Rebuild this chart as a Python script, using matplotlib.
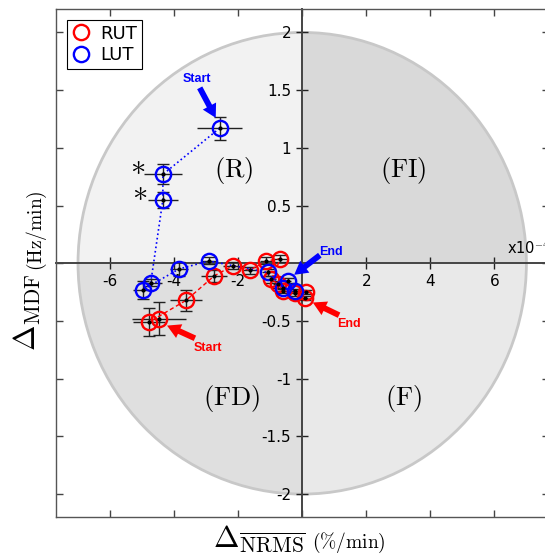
import numpy as np
import matplotlib
matplotlib.use("Agg")
import matplotlib.pyplot as plt
from matplotlib.patches import Wedge, Ellipse
from matplotlib.transforms import Affine2D
from matplotlib.ticker import FixedLocator

plt.rcParams['mathtext.fontset'] = 'cm'
plt.rcParams['axes.unicode_minus'] = False

##############################################################################
# DATA  (x in units of 1e-4 %/min, y in Hz/min)
##############################################################################
lut_x = [-2.58, -4.35, -4.35, -4.73, -4.98, -3.85, -2.91, -1.07, -0.61, -0.23, -0.45]
lut_y = [1.17, 0.77, 0.55, -0.17, -0.23, -0.05, 0.02, -0.08, -0.21, -0.24, -0.15]
lut_xerr = [0.70, 0.59, 0.47, 0.35, 0.30, 0.28, 0.25, 0.20, 0.15, 0.12, 0.10]
lut_yerr = [0.10, 0.087, 0.07, 0.03, 0.08, 0.06, 0.03, 0.03, 0.03, 0.02, 0.02]

rut_x = [-4.47, -4.78, -3.62, -2.75, -2.16, -1.64, -1.12, -0.68, -0.96, -0.75,
         -0.60, -0.23, 0.12, 0.08]
rut_y = [-0.48, -0.51, -0.32, -0.11, -0.02, -0.06, 0.02, 0.04, -0.14, -0.18,
         -0.24, -0.26, -0.25, -0.30]
rut_xerr = [0.83, 0.50, 0.50, 0.40, 0.30, 0.25, 0.20, 0.20, 0.15, 0.15,
            0.12, 0.10, 0.10, 0.10]
rut_yerr = [0.145, 0.12, 0.09, 0.05, 0.03, 0.03, 0.03, 0.03, 0.03, 0.03,
            0.02, 0.02, 0.02, 0.02]

# ellipse half-axes and quadrant shades
ell_a, ell_b = 7.0, 2.0
quadrants = [("(FI)", 0, 90, "#d9d9d9", 3.15, 0.80),
             ("(R)", 90, 180, "#f2f2f2", -2.15, 0.80),
             ("(FD)", 180, 270, "#dfdfdf", -2.2, -1.17),
             ("(F)", 270, 360, "#e9e9e9", 3.15, -1.17)]

xticks = [-6, -4, -2, 2, 4, 6]
yticks = [-2, -1.5, -1, -0.5, 0.5, 1, 1.5, 2]

##############################################################################
# FIGURE
##############################################################################
fig = plt.figure(figsize=(5.45, 5.57), dpi=100)
pos = [0.102, 0.0715, 0.905, 0.9117]
ax = fig.add_axes(pos)
ax.set_xlim(-7.7, 7.7)
ax.set_ylim(-2.2, 2.2)

# shaded ellipse, one wedge per quadrant
scale = Affine2D().scale(ell_a, ell_b) + ax.transData
for name, t1, t2, col, tx, ty in quadrants:
    ax.add_patch(Wedge((0, 0), 1.0, t1, t2, facecolor=col, edgecolor="none",
                       transform=scale, zorder=0))
    ax.text(tx, ty, r"$\mathrm{%s}$" % name, fontsize=19, ha="center",
            va="center", zorder=1)
ax.add_patch(Ellipse((0, 0), 2 * ell_a, 2 * ell_b, facecolor="none",
                     edgecolor="#c8c8c8", lw=2, zorder=1))

# centered axes
for s in ["top", "right"]:
    ax.spines[s].set_visible(False)
ax.spines["left"].set_position("zero")
ax.spines["bottom"].set_position("zero")
for s in ["left", "bottom"]:
    ax.spines[s].set_color("#444444")
    ax.spines[s].set_linewidth(1.4)
    ax.spines[s].set_zorder(2)
ax.xaxis.set_major_locator(FixedLocator(xticks))
ax.yaxis.set_major_locator(FixedLocator(yticks))
ax.set_xticklabels([str(v) for v in xticks])
ax.set_yticklabels(["%g" % v for v in yticks])
ax.tick_params(direction="inout", length=9, width=1, color="#222222",
               labelsize=11)

# errorbars
eb_kw = dict(fmt="none", ecolor="#222222", elinewidth=1, zorder=3)
ax.errorbar(rut_x, rut_y, yerr=rut_yerr, capsize=4, **eb_kw)
ax.errorbar(rut_x, rut_y, xerr=rut_xerr, capsize=0, **eb_kw)
ax.errorbar(lut_x, lut_y, yerr=lut_yerr, capsize=4, **eb_kw)
ax.errorbar(lut_x, lut_y, xerr=lut_xerr, capsize=0, **eb_kw)

# series
ax.plot(rut_x, rut_y, color="red", lw=1, dashes=(3, 2), zorder=4)
ax.plot(lut_x, lut_y, color="blue", lw=1.2, ls=":", zorder=4)
h_rut, = ax.plot(rut_x, rut_y, "o", mfc="none", mec="red", ms=11, mew=1.7,
                 zorder=5, label="RUT")
h_lut, = ax.plot(lut_x, lut_y, "o", mfc="none", mec="blue", ms=11, mew=1.7,
                 zorder=5, label="LUT")
ax.plot(rut_x + lut_x, rut_y + lut_y, "o", color="black", ms=2, zorder=6)

# asterisks on the two marked LUT points
ax.text(lut_x[1] - 0.8, lut_y[1] + 0.08, r"$\ast$", fontsize=22, ha="center", va="center")
ax.text(lut_x[2] - 0.72, lut_y[2] + 0.07, r"$\ast$", fontsize=22, ha="center", va="center")

# start / end arrows
arr = "simple,head_width=0.9,head_length=0.8,tail_width=0.35"
notes = [("Start", "blue", (lut_x[0] - 0.12, lut_y[0] + 0.09), (-3.2, 1.52), (-3.3, 1.60)),
         ("End", "blue", (lut_x[-1] + 0.2, lut_y[-1] + 0.05), (0.55, 0.07), (0.9, 0.10)),
         ("Start", "red", (rut_x[0] + 0.25, rut_y[0] - 0.06), (-3.35, -0.65), (-2.95, -0.73)),
         ("End", "red", (rut_x[-1] + 0.25, rut_y[-1] - 0.04), (1.15, -0.45), (1.45, -0.53))]
for lab, col, tip, tail, tpos in notes:
    ax.annotate("", xy=tip, xytext=tail,
                arrowprops=dict(arrowstyle=arr, color=col, lw=0,
                                mutation_scale=12, shrinkA=0, shrinkB=0),
                zorder=7)
    ax.text(tpos[0], tpos[1], lab, color=col, fontsize=9, fontweight="bold",
            family="Liberation Sans", ha="center", va="center", zorder=7)

ax.text(6.4, 0.06, r"x10$^{-4}$", fontsize=10.5, ha="left", va="bottom")

# outer box with inward ticks
box = fig.add_axes(pos, facecolor="none")
box.set_xlim(-7.7, 7.7)
box.set_ylim(-2.2, 2.2)
box.xaxis.set_major_locator(FixedLocator([-6, -4, -2, 0, 2, 4, 6]))
box.yaxis.set_major_locator(FixedLocator(np.arange(-2, 2.01, 0.5)))
box.tick_params(direction="in", length=5, width=1, color="#444444",
                top=True, right=True, labelbottom=False, labelleft=False)
for s in box.spines.values():
    s.set_color("#555555")
    s.set_linewidth(1)

leg = box.legend([h_rut, h_lut], ["RUT", "LUT"], loc="upper left",
                 bbox_to_anchor=(0.023, 0.979), borderaxespad=0,
                 fontsize=13, fancybox=False, edgecolor="black",
                 framealpha=1, handlelength=1.1, handletextpad=0.5,
                 borderpad=0.25, labelspacing=0.2)
leg.get_frame().set_linewidth(0.8)

# axis labels
fig.text(0.05, 0.44, r"$\Delta_{\mathrm{MDF}}$", fontsize=22, rotation=90,
         ha="center", va="center")
fig.text(0.067, 0.585, r"$\mathrm{(Hz/min)}$", fontsize=14, rotation=90,
         ha="center", va="center")
fig.text(0.475, 0.033, r"$\Delta_{\overline{\mathrm{NRMS}}}$", fontsize=22,
         ha="center", va="center")
fig.text(0.64, 0.026, r"$\mathrm{(\%/min)}$", fontsize=14,
         ha="center", va="center")

fig.savefig("out.png", dpi=100)
